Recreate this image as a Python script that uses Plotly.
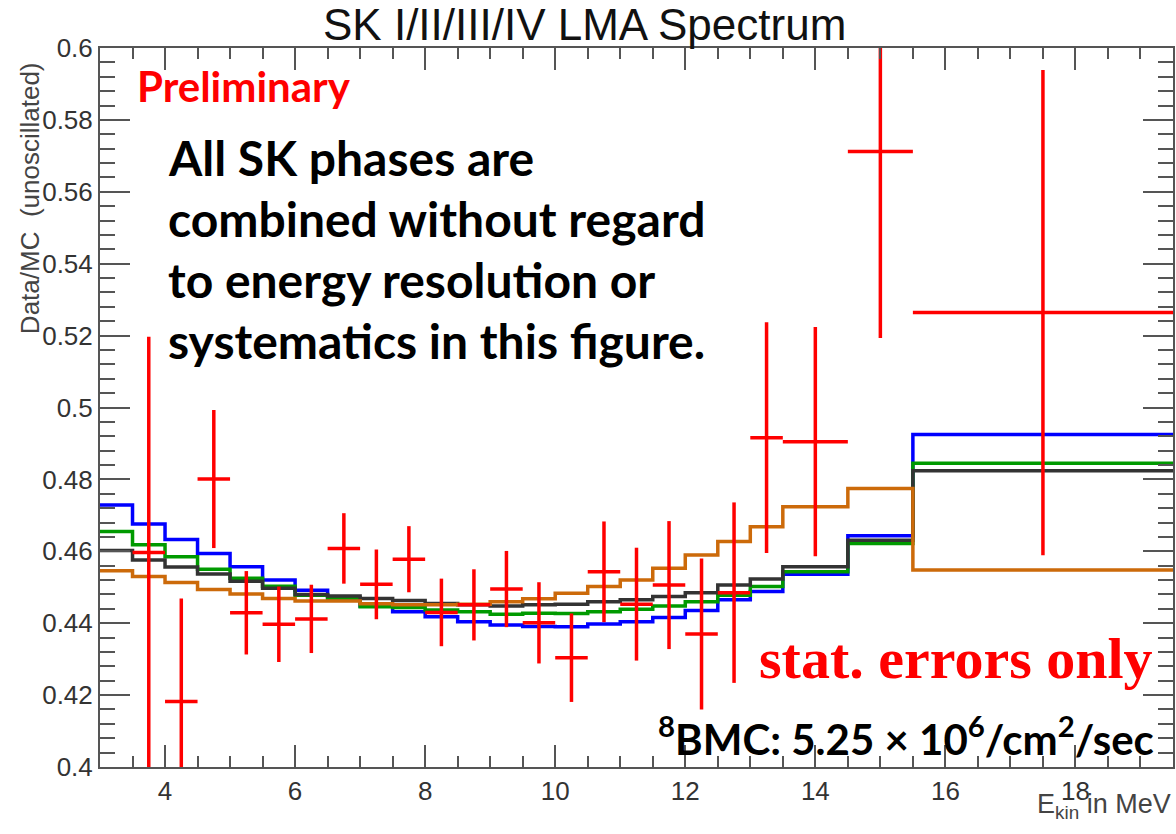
import plotly.graph_objects as go

# ---------------- data ----------------
bin_edges = [3.0, 3.5, 4.0, 4.5, 5.0, 5.5, 6.0, 6.5, 7.0, 7.5, 8.0, 8.5, 9.0, 9.5,
             10.0, 10.5, 11.0, 11.5, 12.0, 12.5, 13.0, 13.5, 14.5, 15.5, 19.5]

mc_blue = [0.4729, 0.4676, 0.4633, 0.4594, 0.4557, 0.4520, 0.4492, 0.4470, 0.4448, 0.4432,
           0.4418, 0.4404, 0.4395, 0.4391, 0.4390, 0.4398, 0.4404, 0.4416, 0.4435, 0.4465,
           0.4488, 0.4536, 0.4643, 0.4925]
mc_green = [0.4655, 0.4618, 0.4585, 0.4550, 0.4525, 0.4503, 0.4478, 0.4470, 0.4446, 0.4444,
            0.4437, 0.4432, 0.4425, 0.4428, 0.4427, 0.4432, 0.4439, 0.4448, 0.4460, 0.4478,
            0.4502, 0.4543, 0.4622, 0.4845]
mc_gray = [0.4602, 0.4576, 0.4556, 0.4537, 0.4517, 0.4497, 0.4480, 0.4476, 0.4469, 0.4463,
           0.4455, 0.4451, 0.4448, 0.4451, 0.4453, 0.4460, 0.4465, 0.4474, 0.4485, 0.4506,
           0.4523, 0.4557, 0.4631, 0.4824]
mc_orange = [0.4546, 0.4530, 0.4513, 0.4494, 0.4481, 0.4469, 0.4462, 0.4462, 0.4454, 0.4451,
             0.4451, 0.4453, 0.4460, 0.4468, 0.4483, 0.4502, 0.4520, 0.4553, 0.4590, 0.4627,
             0.4668, 0.4724, 0.4775, 0.4548]

data_x = [3.75, 4.25, 4.75, 5.25, 5.75, 6.25, 6.75, 7.25, 7.75, 8.25, 8.75, 9.25, 9.75,
          10.25, 10.75, 11.25, 11.75, 12.25, 12.75, 13.25, 14.0, 15.0, 17.5]
data_xerr = [0.25] * 20 + [0.5, 0.5, 2.0]
data_y = [0.4597, 0.4182, 0.4801, 0.4429, 0.4397, 0.4412, 0.4608, 0.4508, 0.4578, 0.4430,
          0.4451, 0.4495, 0.4401, 0.4304, 0.4543, 0.4453, 0.4506, 0.4370, 0.4485, 0.4916,
          0.4905, 0.5712, 0.5264]
data_yerr = [0.0600, 0.0287, 0.0192, 0.0116, 0.0105, 0.0095, 0.0098, 0.0097, 0.0092, 0.0094,
             0.0099, 0.0106, 0.0113, 0.0123, 0.0140, 0.0157, 0.0178, 0.0210, 0.0251, 0.0321,
             0.0319, 0.0519, 0.0675]

x_tick_vals = [4, 6, 8, 10, 12, 14, 16, 18]
y_tick_vals = [0.40, 0.42, 0.44, 0.46, 0.48, 0.50, 0.52, 0.54, 0.56, 0.58, 0.60]
y_tick_text = ["0.4", "0.42", "0.44", "0.46", "0.48", "0.5", "0.52", "0.54", "0.56", "0.58", "0.6"]

# ---------------- figure ----------------
fig = go.Figure()

def step(vals, color, name):
    fig.add_trace(go.Scatter(
        x=bin_edges, y=list(vals) + [vals[-1]], mode="lines", line_shape="hv",
        line=dict(color=color, width=3.5), name=name, showlegend=False,
        hoverinfo="skip"))

step(mc_blue, "#0000ff", "blue")
step(mc_green, "#009a00", "green")
step(mc_gray, "#333333", "gray")
step(mc_orange, "#cc6a0a", "orange")

fig.add_trace(go.Scatter(
    x=data_x, y=data_y, mode="markers",
    marker=dict(size=1, color="#ff0000"),
    error_x=dict(type="data", array=data_xerr, width=0, thickness=3.5, color="#ff0000"),
    error_y=dict(type="data", array=data_yerr, width=0, thickness=3.5, color="#ff0000"),
    showlegend=False))

axis_font = dict(family="Liberation Sans, Arial, sans-serif", size=26, color="#333333")

fig.update_xaxes(
    range=[3, 19.5], tickvals=x_tick_vals, ticks="inside", ticklen=22, tickwidth=1.5,
    tickcolor="#555555", showline=True, linecolor="#555555", linewidth=2, mirror="allticks",
    showgrid=False, zeroline=False, tickfont=axis_font,
    minor=dict(dtick=0.5, ticks="inside", ticklen=11, tickwidth=1.5, tickcolor="#555555", showgrid=False))
fig.update_yaxes(
    range=[0.4, 0.6], tickvals=y_tick_vals, ticktext=y_tick_text, ticks="inside", ticklen=30,
    tickwidth=1.5, tickcolor="#555555", showline=True, linecolor="#555555", linewidth=2,
    mirror="allticks", showgrid=False, zeroline=False, tickfont=axis_font,
    minor=dict(dtick=0.004, tick0=0.4, ticks="inside", ticklen=15, tickwidth=1.5,
               tickcolor="#555555", showgrid=False))

fig.update_layout(
    width=1176, height=834,
    margin=dict(l=100, r=1, t=48, b=67),
    paper_bgcolor="white", plot_bgcolor="white",
    showlegend=False,
)

def px_to_paper_x(px):
    return (px - 100) / 1075.0

def px_to_paper_y(py):
    return (767 - py) / 719.0

ann = []
ann.append(dict(text="SK I/II/III/IV LMA Spectrum", x=px_to_paper_x(585), y=px_to_paper_y(25),
                xref="paper", yref="paper", showarrow=False, xanchor="center", yanchor="middle",
                font=dict(family="Liberation Sans, Arial", size=44, color="#111111")))
ann.append(dict(text="Data/MC  (unoscillated)", x=px_to_paper_x(30), y=px_to_paper_y(198),
                xref="paper", yref="paper", showarrow=False, xanchor="center", yanchor="middle",
                textangle=-90, font=dict(family="Liberation Sans, Arial", size=26, color="#444444")))
ann.append(dict(text="E<sub>kin</sub> in MeV", x=1.0, y=px_to_paper_y(806),
                xref="paper", yref="paper", showarrow=False, xanchor="right", yanchor="middle",
                font=dict(family="Liberation Sans, Arial", size=27, color="#444444")))
ann.append(dict(text="<b>Preliminary</b>", x=px_to_paper_x(135), y=px_to_paper_y(86),
                xref="paper", yref="paper", showarrow=False, xanchor="left", yanchor="middle",
                font=dict(family="Lato, Open Sans, sans-serif", size=42, color="#ff0000")))
lines = ["All SK phases are", "combined without regard", "to energy resolution or",
         "systematics in this figure."]
for i, t in enumerate(lines):
    ann.append(dict(text="<b>" + t + "</b>", x=px_to_paper_x(166), y=px_to_paper_y(157 + i * 61),
                    xref="paper", yref="paper", showarrow=False, xanchor="left", yanchor="middle",
                    font=dict(family="Lato, Open Sans, sans-serif", size=48, color="#000000")))
ann.append(dict(text="<b>stat. errors only</b>", x=px_to_paper_x(1157), y=px_to_paper_y(658),
                xref="paper", yref="paper", showarrow=False, xanchor="right", yanchor="middle",
                font=dict(family="Liberation Serif, Times New Roman, serif", size=58, color="#ff0000")))
ann.append(dict(text="<b><sup>8</sup>BMC: 5.25 × 10<sup>6</sup>/cm<sup>2</sup>/sec</b>",
                x=px_to_paper_x(1158), y=px_to_paper_y(736),
                xref="paper", yref="paper", showarrow=False, xanchor="right", yanchor="middle",
                font=dict(family="Lato, Open Sans, sans-serif", size=42, color="#000000")))

fig.update_layout(annotations=ann)

fig.write_html("out.html")
